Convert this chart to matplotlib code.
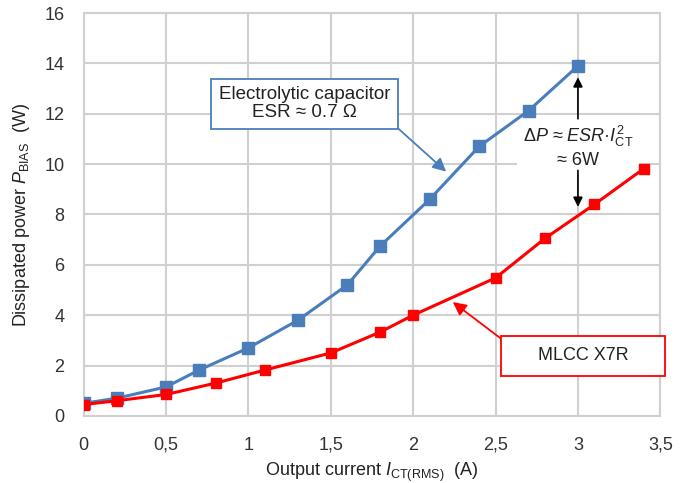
import matplotlib
matplotlib.use('Agg')
import matplotlib.pyplot as plt

plt.rcParams['font.family'] = ['Liberation Sans', 'DejaVu Sans']
plt.rcParams['mathtext.fontset'] = 'custom'
plt.rcParams['mathtext.rm'] = 'Liberation Sans'
plt.rcParams['mathtext.it'] = 'Liberation Sans:italic'

# Electrolytic capacitor (blue)
elko_i = [0, 0.2, 0.5, 0.7, 1.0, 1.3, 1.6, 1.8, 2.1, 2.4, 2.7, 3.0]
elko_p = [0.5, 0.7, 1.15, 1.82, 2.7, 3.8, 5.2, 6.75, 8.6, 10.7, 12.12, 13.9]

# MLCC X7R (red)
mlcc_i = [0, 0.2, 0.5, 0.8, 1.1, 1.5, 1.8, 2.0, 2.5, 2.8, 3.1, 3.4]
mlcc_p = [0.45, 0.6, 0.85, 1.3, 1.82, 2.5, 3.33, 4.0, 5.48, 7.05, 8.4, 9.82]

x_ticks = [0, 0.5, 1, 1.5, 2, 2.5, 3, 3.5]
x_labels = ['0', '0,5', '1', '1,5', '2', '2,5', '3', '3,5']
y_ticks = [0, 2, 4, 6, 8, 10, 12, 14, 16]

blue = '#4a7ebb'
red = '#ff0000'
fs = 13

fig = plt.figure(figsize=(6.98, 4.83), dpi=100)
ax = fig.add_axes([0.120, 0.139, 0.826, 0.834])

ax.plot(elko_i, elko_p, color=blue, lw=2.2, marker='s', ms=8.5, zorder=3)
ax.plot(mlcc_i, mlcc_p, color=red, lw=2.2, marker='s', ms=6.5, zorder=3)

ax.set_xlim(0, 3.5)
ax.set_ylim(0, 16)
ax.set_xticks(x_ticks)
ax.set_xticklabels(x_labels)
ax.set_yticks(y_ticks)
ax.tick_params(length=0, labelsize=fs, labelcolor='#333333')
ax.tick_params(axis='x', pad=15)
ax.tick_params(axis='y', pad=14)
ax.grid(True, color='#d0d0d0', lw=1.5)
ax.set_axisbelow(True)
for s in ax.spines.values():
    s.set_color('#d0d0d0')
    s.set_linewidth(1.5)

ax.set_xlabel(r'Output current $\mathit{I}_{\mathrm{CT(RMS)}}$  (A)', fontsize=fs, color='#222222', labelpad=5)
ax.set_ylabel(r'Dissipated power $\mathit{P}_{\mathrm{BIAS}}$  (W)', fontsize=fs, color='#222222', labelpad=9)

# callouts
ax.annotate('Electrolytic capacitor\nESR ≈ 0.7 Ω', xy=(2.2, 9.7), xytext=(1.34, 12.4),
            fontsize=13.5, color='#222222', ha='center', va='center', linespacing=1.1,
            bbox=dict(boxstyle='square,pad=0.4', fc='white', ec=blue, lw=1.3),
            arrowprops=dict(arrowstyle='-|>', color=blue, lw=1.3, mutation_scale=20,
                            shrinkA=0, shrinkB=0, relpos=(1, 0)))

ax.annotate('     MLCC X7R     ', xy=(2.24, 4.52), xytext=(3.03, 2.38),
            fontsize=fs, color='#222222', ha='center', va='center',
            bbox=dict(boxstyle='square,pad=0.65', fc='white', ec=red, lw=1.3),
            arrowprops=dict(arrowstyle='-|>', color=red, lw=1.3, mutation_scale=20,
                            shrinkA=0, shrinkB=0, relpos=(0, 1)))

ax.text(3.0, 10.7, r'$\Delta \mathit{P}$ ≈ $\mathit{ESR}$·$\mathit{I}_{\mathrm{CT}}^{2}$' + '\n≈ 6W',
        fontsize=fs, color='#222222', ha='center', va='center', linespacing=1.25,
        bbox=dict(boxstyle='square,pad=0.3', fc='white', ec='none'), zorder=2.5)
ax.annotate('', xy=(3.0, 13.45), xytext=(3.0, 11.8),
            arrowprops=dict(arrowstyle='-|>', color='black', lw=1.2, mutation_scale=14,
                            shrinkA=0, shrinkB=0))
ax.annotate('', xy=(3.0, 8.3), xytext=(3.0, 9.75),
            arrowprops=dict(arrowstyle='-|>', color='black', lw=1.2, mutation_scale=14,
                            shrinkA=0, shrinkB=0))

fig.savefig('out.png', dpi=100)
